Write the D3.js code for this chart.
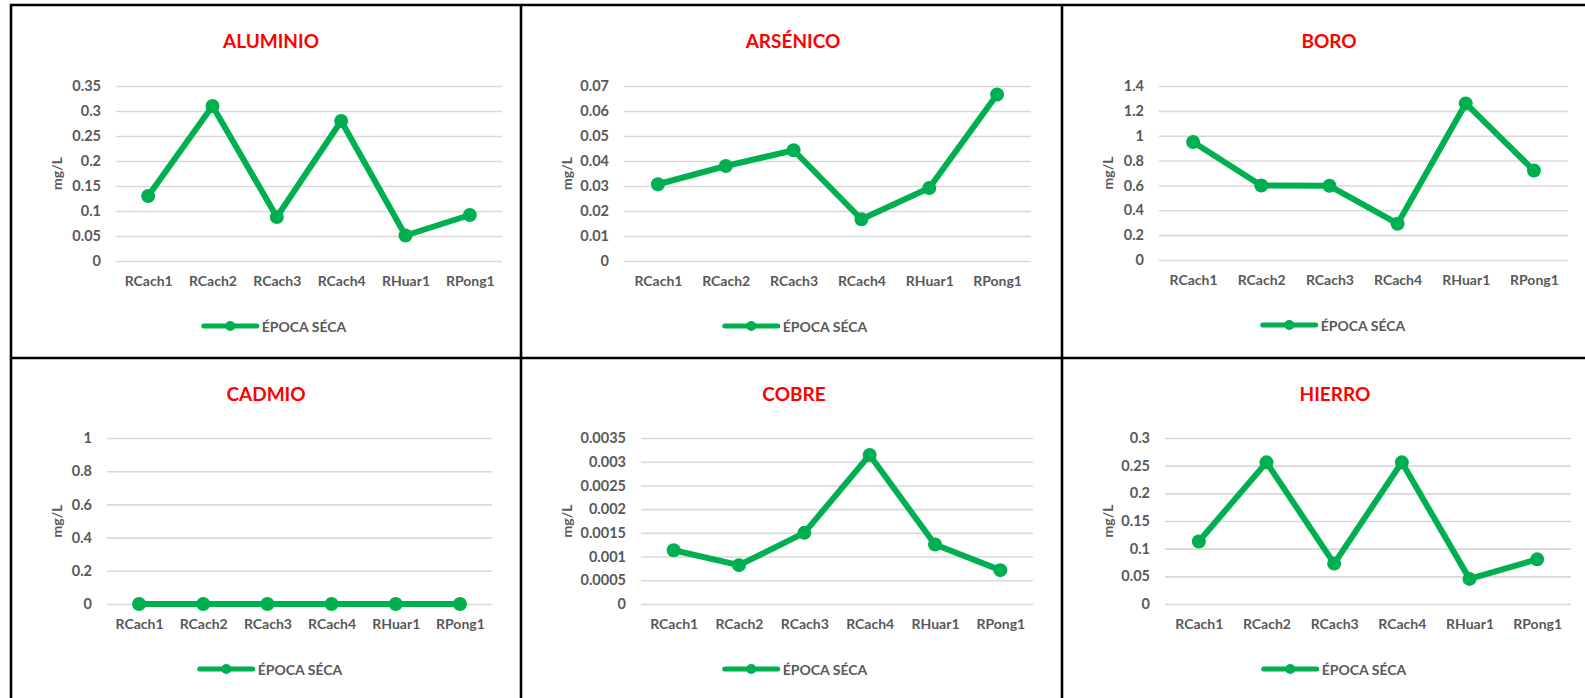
<!DOCTYPE html>
<html>
<head>
<meta charset="utf-8">
<script src="https://cdn.jsdelivr.net/npm/d3@7"></script>
<style>
  html, body { margin: 0; padding: 0; background: #ffffff; }
  svg { display: block; }
  text { font-family: Lato, "Liberation Sans", Arial, sans-serif; font-weight: 700; }
</style>
</head>
<body>
<svg id="chart" width="1585" height="698"></svg>
<script>
// Sampling stations (x axis), shared by every panel
const stations = ["RCach1", "RCach2", "RCach3", "RCach4", "RHuar1", "RPong1"];
const seriesName = "ÉPOCA SÉCA";
const unitLabel = "mg/L";

// Concentrations in mg/L, dry season
const aluminio = [0.13, 0.31, 0.088, 0.28, 0.051, 0.092];
const arsenico = [0.0307, 0.038, 0.0443, 0.0167, 0.0292, 0.0666];
const boro     = [0.95, 0.60, 0.597, 0.292, 1.26, 0.72];
const cadmio   = [0, 0, 0, 0, 0, 0];
const cobre    = [0.001134, 0.000819, 0.0015, 0.003143, 0.001253, 0.000714];
const hierro   = [0.113, 0.256, 0.073, 0.256, 0.0454, 0.0807];

// Y-axis tick values per element
const ticksAluminio = [0, 0.05, 0.1, 0.15, 0.2, 0.25, 0.3, 0.35];
const ticksArsenico = [0, 0.01, 0.02, 0.03, 0.04, 0.05, 0.06, 0.07];
const ticksBoro     = [0, 0.2, 0.4, 0.6, 0.8, 1, 1.2, 1.4];
const ticksCadmio   = [0, 0.2, 0.4, 0.6, 0.8, 1];
const ticksCobre    = [0, 0.0005, 0.001, 0.0015, 0.002, 0.0025, 0.003, 0.0035];
const ticksHierro   = [0, 0.05, 0.1, 0.15, 0.2, 0.25, 0.3];

const titles = ["ALUMINIO", "ARSÉNICO", "BORO", "CADMIO", "COBRE", "HIERRO"];

// Panel geometry: frame origin, plot box, title centre and legend centre
const panels = [
  { title: titles[0], values: aluminio, ticks: ticksAluminio, left: 11,   top: 5,   x0: 116,  x1: 502,  yTop: 86,  yBot: 261, tx: 271,  lx: 275 },
  { title: titles[1], values: arsenico, ticks: ticksArsenico, left: 521,  top: 5,   x0: 624,  x1: 1031, yTop: 86,  yBot: 261, tx: 793,  lx: 796 },
  { title: titles[2], values: boro,     ticks: ticksBoro,     left: 1062, top: 5,   x0: 1159, x1: 1568, yTop: 86,  yBot: 260, tx: 1329, lx: 1334 },
  { title: titles[3], values: cadmio,   ticks: ticksCadmio,   left: 11,   top: 358, x0: 107,  x1: 492,  yTop: 438, yBot: 604, tx: 266,  lx: 271 },
  { title: titles[4], values: cobre,    ticks: ticksCobre,    left: 521,  top: 358, x0: 641,  x1: 1033, yTop: 438, yBot: 604, tx: 794,  lx: 796 },
  { title: titles[5], values: hierro,   ticks: ticksHierro,   left: 1062, top: 358, x0: 1165, x1: 1571, yTop: 438, yBot: 604, tx: 1335, lx: 1335 }
];

const GREEN = "#00B050";
const TICK_COLOR = "#595959";
const GRID_COLOR = "#d9d9d9";

const svg = d3.select("#chart");

// Number labels as the spreadsheet shows them (no trailing zeros)
const fmt = v => String(+v.toFixed(6));

panels.forEach(p => {
  const g = svg.append("g");

  const x = d3.scalePoint().domain(stations).range([p.x0, p.x1]).padding(0.5);
  const y = d3.scaleLinear().domain([0, d3.max(p.ticks)]).range([p.yBot, p.yTop]);

  // Horizontal gridlines + value labels
  const yAxis = d3.axisLeft(y)
    .tickValues(p.ticks)
    .tickFormat(fmt)
    .tickSizeInner(-(p.x1 - p.x0))
    .tickSizeOuter(0)
    .tickPadding(15);
  const ya = g.append("g").attr("transform", `translate(${p.x0},0)`).call(yAxis);
  ya.select(".domain").remove();
  ya.selectAll(".tick line").attr("stroke", GRID_COLOR).attr("stroke-width", 1.6);
  ya.selectAll(".tick text").attr("fill", TICK_COLOR).style("font-size", "14.5px");

  // Station labels
  const xAxis = d3.axisBottom(x).tickSize(0).tickPadding(15);
  const xa = g.append("g").attr("transform", `translate(0,${p.yBot})`).call(xAxis);
  xa.select(".domain").remove();
  xa.selectAll(".tick text").attr("fill", TICK_COLOR).style("font-size", "14px");

  // Unit label
  g.append("text")
    .attr("transform", `translate(${p.left + 45},${(p.yTop + p.yBot) / 2}) rotate(-90)`)
    .attr("text-anchor", "middle")
    .attr("dominant-baseline", "central")
    .attr("fill", TICK_COLOR)
    .style("font-size", "14px")
    .text(unitLabel);

  // Title
  g.append("text")
    .attr("x", p.tx)
    .attr("y", p.top + 35)
    .attr("text-anchor", "middle")
    .attr("dominant-baseline", "central")
    .attr("fill", "#FF0000")
    .style("font-size", "19px")
    .text(p.title);

  // Series line and markers
  const pts = stations.map((s, i) => ({ s, v: p.values[i] }));
  g.append("path")
    .datum(pts)
    .attr("fill", "none")
    .attr("stroke", GREEN)
    .attr("stroke-width", 6)
    .attr("stroke-linejoin", "round")
    .attr("d", d3.line().x(d => x(d.s)).y(d => y(d.v)));
  g.selectAll("circle.pt")
    .data(pts)
    .join("circle")
    .attr("class", "pt")
    .attr("cx", d => x(d.s))
    .attr("cy", d => y(d.v))
    .attr("r", 7)
    .attr("fill", GREEN);

  // Legend, centred under the plot
  const leg = g.append("g");
  const legText = leg.append("text")
    .attr("x", 58)
    .attr("y", 0)
    .attr("dominant-baseline", "central")
    .attr("fill", TICK_COLOR)
    .style("font-size", "14px")
    .text(seriesName);
  leg.append("line")
    .attr("x1", 0).attr("x2", 53).attr("y1", 0).attr("y2", 0)
    .attr("stroke", GREEN).attr("stroke-width", 5).attr("stroke-linecap", "round");
  leg.append("circle").attr("cx", 26.5).attr("cy", 0).attr("r", 5).attr("fill", GREEN);
  const legW = 58 + legText.node().getComputedTextLength();
  leg.attr("transform", `translate(${p.lx - legW / 2},${p.yBot + 65})`);
});

// Frames around the panels
const frame = svg.append("g").attr("stroke", "#000").attr("stroke-width", 2.6).attr("fill", "none");
const colEdges = [11, 521, 1062];
const rowEdges = [5, 358];
colEdges.forEach(cx => frame.append("line").attr("x1", cx).attr("x2", cx).attr("y1", 4).attr("y2", 698));
rowEdges.forEach(ry => frame.append("line").attr("x1", 10).attr("x2", 1585).attr("y1", ry).attr("y2", ry));
</script>
</body>
</html>
